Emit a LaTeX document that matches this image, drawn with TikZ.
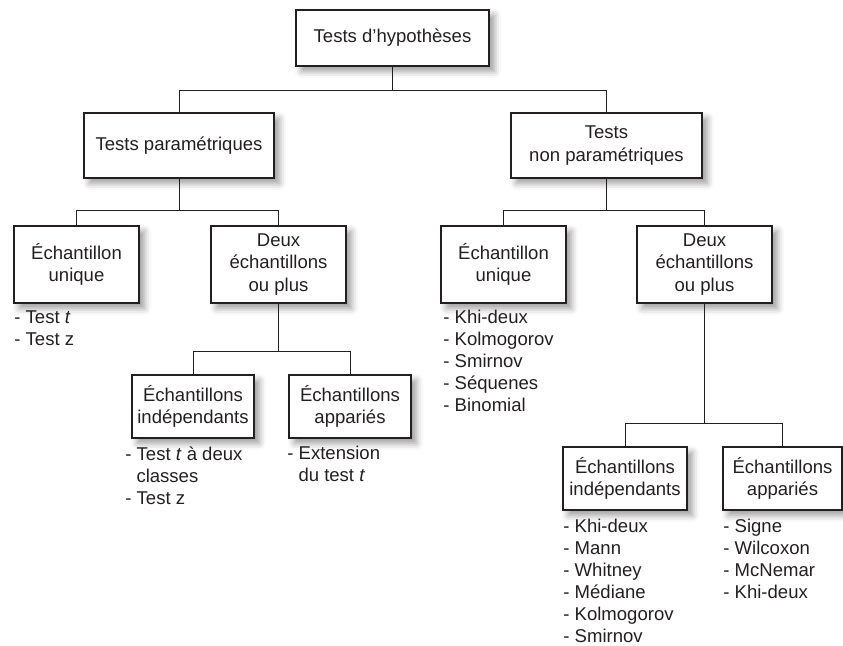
\documentclass[tikz,border=0pt]{standalone}
\usepackage{fontspec}
\setmainfont{Liberation Sans}
\usetikzlibrary{shadows.blur}

\definecolor{encre}{RGB}{35,31,32}
\tikzset{every picture/.style={line width=0.6pt}}
\tikzset{
  boite/.style={draw=encre, line width=1.2pt, fill=white, align=center, inner sep=0pt,
    text=encre, font={\fontsize{13.9pt}{16.9pt}\selectfont},
    blur shadow={shadow xshift=4pt, shadow yshift=-4pt, shadow blur radius=5pt, shadow opacity=40}},
  liste/.style={anchor=north west, align=left, inner sep=0pt, text=encre,
    font={\fontsize{13.9pt}{16.5pt}\selectfont}},
  lien/.style={draw=encre, line width=0.6pt}
}

\begin{document}
\begin{tikzpicture}[x=0.75pt,y=0.75pt,yscale=-1,xscale=1]
	\useasboundingbox (0,0) rectangle (843,646);

	%Shape: Rectangle [id:hyp]
	\node[boite, minimum width=144.75pt, minimum height=42pt] (hyp) at (392.5,38) {Tests d'hypothèses};
	%Shape: Rectangle [id:para]
	\node[boite, minimum width=142.5pt, minimum height=48.75pt] (para) at (179,145.5) {Tests paramétriques};
	%Shape: Rectangle [id:npara]
	\node[boite, minimum width=143.25pt, minimum height=48.75pt] (npara) at (606.5,145.5) {Tests\\non paramétriques};

	%Shape: Rectangle [id:uniqueG]
	\node[boite, minimum width=93.75pt, minimum height=57.75pt] (uniqueG) at (76.5,264.5) {Échantillon\\unique};
	%Shape: Rectangle [id:deuxG]
	\node[boite, minimum width=101.25pt, minimum height=57.75pt] (deuxG) at (278.5,264.5) {Deux\\échantillons\\ou plus};
	%Shape: Rectangle [id:indepG]
	\node[boite, minimum width=91.5pt, minimum height=47.25pt] (indepG) at (193,406.5) {Échantillons\\indépendants};
	%Shape: Rectangle [id:appG]
	\node[boite, minimum width=91.5pt, minimum height=47.25pt] (appG) at (350,406.5) {Échantillons\\appariés};

	%Shape: Rectangle [id:uniqueD]
	\node[boite, minimum width=93.75pt, minimum height=57.75pt] (uniqueD) at (503.5,264.5) {Échantillon\\unique};
	%Shape: Rectangle [id:deuxD]
	\node[boite, minimum width=101.25pt, minimum height=57.75pt] (deuxD) at (704.5,264.5) {Deux\\échantillons\\ou plus};
	%Shape: Rectangle [id:indepD]
	\node[boite, minimum width=93pt, minimum height=47.25pt] (indepD) at (625,478.5) {Échantillons\\indépendants};
	%Shape: Rectangle [id:appD]
	\node[boite, minimum width=89.25pt, minimum height=47.25pt] (appD) at (782.5,478.5) {Échantillons\\appariés};

	%Straight Lines [id:liens]
	\draw[lien] (hyp.south) -- ++(0,24) coordinate (b1);
	\draw[lien] (para.north) |- (b1) -| (npara.north);
	\draw[lien] (para.south) -- ++(0,31.5) coordinate (b2);
	\draw[lien] (uniqueG.north) |- (b2) -| (deuxG.north);
	\draw[lien] (deuxG.south) -- ++(0,48) coordinate (b3);
	\draw[lien] (indepG.north) |- (b3) -| (appG.north);
	\draw[lien] (npara.south) -- ++(0,31.5) coordinate (b4);
	\draw[lien] (uniqueD.north) |- (b4) -| (deuxD.north);
	\draw[lien] (deuxD.south) -- ++(0,120) coordinate (b5);
	\draw[lien] (indepD.north) |- (b5) -| (appD.north);

	% Text Node
	\node[liste] (lstUniqueG) at (14,310) {- Test \textit{t}\\- Test z};
	% Text Node
	\node[liste] (lstIndepG) at (125,446) {- Test \textit{t} à deux\\\hspace*{0.6em}classes\\- Test z};
	% Text Node
	\node[liste] (lstAppG) at (287,446) {- Extension\\\hspace*{0.6em}du test \textit{t}};
	% Text Node
	\node[liste] (lstUniqueD) at (443,310) {- Khi-deux\\- Kolmogorov\\- Smirnov\\- Séquenes\\- Binomial};
	% Text Node
	\node[liste] (lstIndepD) at (563,519) {- Khi-deux\\- Mann\\- Whitney\\- Médiane\\- Kolmogorov\\- Smirnov};
	% Text Node
	\node[liste] (lstAppD) at (723,519) {- Signe\\- Wilcoxon\\- McNemar\\- Khi-deux};

\end{tikzpicture}
\end{document}
